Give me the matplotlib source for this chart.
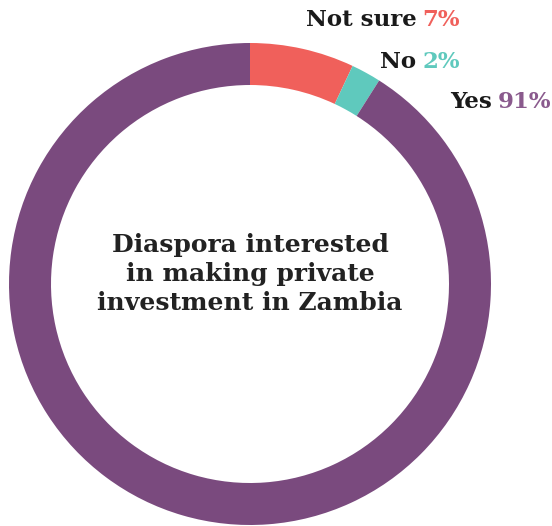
import matplotlib.pyplot as plt

# data
labels = ["Not sure", "No", "Yes"]
values = [7, 2, 91]
colors = ["#f0605b", "#5fc9bd", "#7a4a7e"]
text_colors = ["#f0605b", "#5fc9bd", "#8a5a8d"]
title = "Diaspora interested\nin making private\ninvestment in Zambia"

W, H = 552, 526
fig = plt.figure(figsize=(W / 100, H / 100), dpi=100)
ax = fig.add_axes([0, 0, 1, 1])

cx, cy = 250, H - 284
ax.pie(values, colors=colors, startangle=90, counterclock=False,
       center=(cx, cy), radius=241, frame=True,
       wedgeprops=dict(width=42, linewidth=0))
ax.set_xlim(0, W)
ax.set_ylim(0, H)
ax.set_aspect("equal")
ax.axis("off")

# slice labels: name in black, percentage in slice colour, right aligned
fs = 16.5
label_pos = [(460, H - 20), (460, H - 62), (551, H - 102)]
fig.canvas.draw()
for (x, y), lab, v, tc in zip(label_pos, labels, values, text_colors):
    pct = ax.text(x, y, f"{v}%", ha="right", va="center", color=tc,
                  fontsize=fs, fontweight="bold", family="DejaVu Serif")
    w = pct.get_window_extent(fig.canvas.get_renderer()).width
    ax.text(x - w - 6, y, lab, ha="right", va="center", color="#1a1a1a",
            fontsize=fs, fontweight="bold", family="DejaVu Serif")

ax.text(cx, H - 274, title, ha="center", va="center", color="#222222",
        fontsize=18, fontweight="bold", family="DejaVu Serif",
        linespacing=1.25)

fig.savefig("out.png", dpi=100)
